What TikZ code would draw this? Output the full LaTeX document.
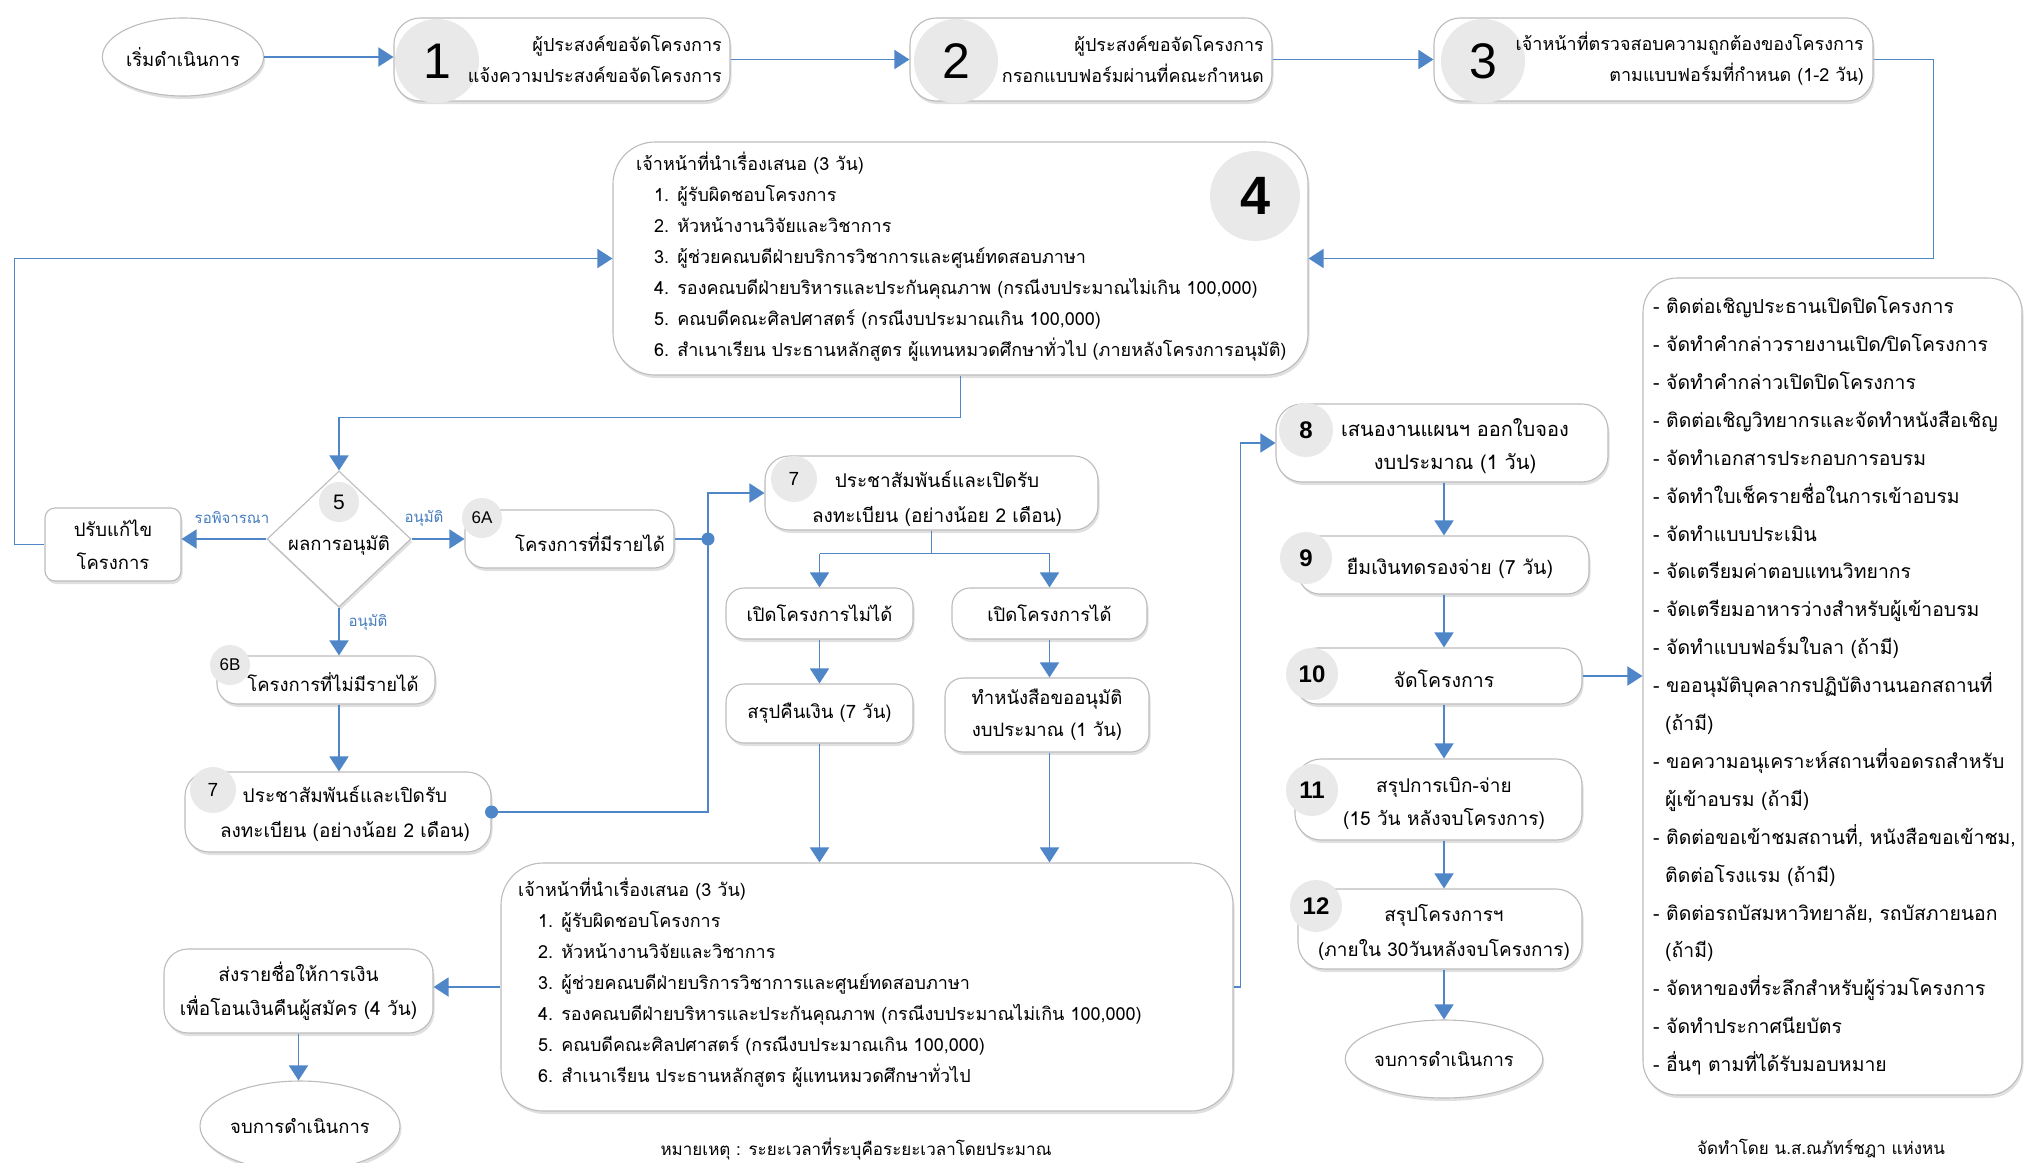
\documentclass[tikz,border=0pt]{standalone}
\usepackage{fontspec}
\setmainfont{Loma}[Script=Thai]
\newfontfamily\numfont{Liberation Sans}
\usetikzlibrary{arrows.meta,shapes.geometric,shadows,calc}
\definecolor{flow}{RGB}{78,134,200}
\definecolor{edge}{RGB}{188,188,188}
\definecolor{numfill}{RGB}{233,233,233}
\definecolor{lbl}{RGB}{70,125,190}
\newcommand\fsz[2]{\fontsize{#1}{#2}\selectfont}
\tikzset{
  softshadow/.style={drop shadow={shadow xshift=1.5pt, shadow yshift=-3pt, opacity=0.12, fill=black}},
  box/.style={draw=edge, line width=1.1pt, rounded corners=18pt, fill=white, softshadow,
    inner sep=0pt, align=center, font=\fsz{18.5}{33}},
  oval/.style={draw=edge, line width=1.1pt, ellipse, fill=white, softshadow, inner sep=0pt,
    font=\fsz{18.5}{33}},
  numc/.style={circle, fill=numfill, inner sep=0pt},
  arr/.style={draw=flow, line width=1.6pt, -{Triangle[width=19pt,length=15pt]}},
  ln/.style={draw=flow, line width=1.6pt},
  txt/.style={inner sep=0pt, font=\fsz{18.5}{31}},
  lab/.style={inner sep=0pt, text=lbl, font=\fsz{15}{18}},
}
\begin{document}
\begin{tikzpicture}[x=1pt,y=-1pt]
\useasboundingbox (0,0) rectangle (2025,1162);
\fill[white] (0,0) rectangle (2025,1162);

% ---------- top row ----------
\node[oval, minimum width=130pt, minimum height=78pt] (start) at (183,57) {เริ่มดำเนินการ};
\node[box, rounded corners=26pt, minimum width=336pt, minimum height=83pt] (b1) at (562,59.5) {};
\node[box, rounded corners=26pt, minimum width=362pt, minimum height=83pt] (b2) at (1091,59.5) {};
\node[box, rounded corners=26pt, minimum width=439pt, minimum height=83pt] (b3) at (1653.5,59.5) {};
\node[numc, minimum size=84pt, font=\numfont\fsz{50}{50}] (c1) at (437,61) {1};
\node[numc, minimum size=84pt, font=\numfont\fsz{50}{50}] (c2) at (956,61) {2};
\node[numc, minimum size=84pt, font=\numfont\fsz{50}{50}] (c3) at (1483,61) {3};
\node[txt, anchor=east, align=right, font=\fsz{18}{31}] (t1) at (722,59) {ผู้ประสงค์ขอจัดโครงการ\\แจ้งความประสงค์ขอจัดโครงการ};
\node[txt, anchor=east, align=right, font=\fsz{18}{31}] (t2) at (1264,59) {ผู้ประสงค์ขอจัดโครงการ\\กรอกแบบฟอร์มผ่านที่คณะกำหนด};
\node[txt, anchor=east, align=right, font=\fsz{18}{31}] (t3) at (1864,59) {เจ้าหน้าที่ตรวจสอบความถูกต้องของโครงการ\\ตามแบบฟอร์มที่กำหนด (1-2 วัน)};

% ---------- step 4 ----------
\node[box, rounded corners=42pt, minimum width=695pt, minimum height=233pt] (b4) at (960.5,258.5) {};
\node[numc, minimum size=90pt, font=\numfont\bfseries\fsz{54}{54}] (c4) at (1255,196) {4};
\node[txt, anchor=north west, align=left, font=\fsz{18}{31}] (t4) at (636,152)
  {เจ้าหน้าที่นำเรื่องเสนอ (3 วัน)\\
   \hspace*{18pt}1. ผู้รับผิดชอบโครงการ\\
   \hspace*{18pt}2. หัวหน้างานวิจัยและวิชาการ\\
   \hspace*{18pt}3. ผู้ช่วยคณบดีฝ่ายบริการวิชาการและศูนย์ทดสอบภาษา\\
   \hspace*{18pt}4. รองคณบดีฝ่ายบริหารและประกันคุณภาพ (กรณีงบประมาณไม่เกิน 100,000)\\
   \hspace*{18pt}5. คณบดีคณะศิลปศาสตร์ (กรณีงบประมาณเกิน 100,000)\\
   \hspace*{18pt}6. สำเนาเรียน ประธานหลักสูตร ผู้แทนหมวดศึกษาทั่วไป (ภายหลังโครงการอนุมัติ)};

% ---------- decision ----------
\node[draw=edge, line width=1.1pt, diamond, fill=white, softshadow, minimum width=144pt,
  minimum height=136pt, inner sep=0pt] (d5) at (339,539) {};
\node[numc, minimum size=40pt, font=\numfont\fsz{21}{21}] (c5) at (339,502) {5};
\node[txt] (t5) at (339,545) {ผลการอนุมัติ};
\node[box, rounded corners=10pt, minimum width=136pt, minimum height=73pt] (fix) at (113,544.5) {ปรับแก้ไข\\โครงการ};

\node[box, rounded corners=20pt, minimum width=209pt, minimum height=58pt] (a6) at (569.5,539) {};
\node[numc, minimum size=40pt, font=\numfont\fsz{17}{17}] (c6a) at (482,518) {6A};
\node[txt] (t6a) at (590,542) {โครงการที่มีรายได้};

\node[box, rounded corners=20pt, minimum width=218pt, minimum height=48pt] (b6) at (326,680) {};
\node[numc, minimum size=40pt, font=\numfont\fsz{17}{17}] (c6b) at (230,665) {6B};
\node[txt] (t6b) at (333,682) {โครงการที่ไม่มีรายได้};

\node[box, rounded corners=24pt, minimum width=306pt, minimum height=80pt] (s7b) at (338,812) {};
\node[numc, minimum size=46pt, font=\numfont\fsz{19}{19}] (c7b) at (213,790) {7};
\node[txt, align=center, font=\fsz{19}{35}] (t7b) at (345,814) {ประชาสัมพันธ์และเปิดรับ\\ลงทะเบียน (อย่างน้อย 2 เดือน)};

\node[box, rounded corners=24pt, minimum width=333pt, minimum height=74pt] (s7a) at (931.5,493) {};
\node[numc, minimum size=46pt, font=\numfont\fsz{19}{19}] (c7a) at (794,479) {7};
\node[txt, align=center, font=\fsz{19}{35}] (t7a) at (937,499) {ประชาสัมพันธ์และเปิดรับ\\ลงทะเบียน (อย่างน้อย 2 เดือน)};

\node[box, minimum width=187pt, minimum height=51pt] (no) at (819.5,613.5) {เปิดโครงการไม่ได้};
\node[box, minimum width=195pt, minimum height=51pt] (yes) at (1049.5,613.5) {เปิดโครงการได้};
\node[box, minimum width=187pt, minimum height=59pt] (refund) at (819.5,713.5) {สรุปคืนเงิน (7 วัน)};
\node[box, minimum width=204pt, minimum height=74pt, font=\fsz{18.5}{32}] (request) at (1047,715) {ทำหนังสือขออนุมัติ\\งบประมาณ (1 วัน)};

% ---------- second review ----------
\node[box, rounded corners=42pt, minimum width=732pt, minimum height=248pt] (rv2) at (867,987) {};
\node[txt, anchor=north west, align=left, font=\fsz{18}{31}] (trv2) at (518,878)
  {เจ้าหน้าที่นำเรื่องเสนอ (3 วัน)\\
   \hspace*{20pt}1. ผู้รับผิดชอบโครงการ\\
   \hspace*{20pt}2. หัวหน้างานวิจัยและวิชาการ\\
   \hspace*{20pt}3. ผู้ช่วยคณบดีฝ่ายบริการวิชาการและศูนย์ทดสอบภาษา\\
   \hspace*{20pt}4. รองคณบดีฝ่ายบริหารและประกันคุณภาพ (กรณีงบประมาณไม่เกิน 100,000)\\
   \hspace*{20pt}5. คณบดีคณะศิลปศาสตร์ (กรณีงบประมาณเกิน 100,000)\\
   \hspace*{20pt}6. สำเนาเรียน ประธานหลักสูตร ผู้แทนหมวดศึกษาทั่วไป};

\node[box, rounded corners=24pt, minimum width=269pt, minimum height=84pt, font=\fsz{19}{34}] (send) at (298.5,991) {ส่งรายชื่อให้การเงิน\\เพื่อโอนเงินคืนผู้สมัคร (4 วัน)};
\node[oval, minimum width=200pt, minimum height=90pt] (end1) at (300,1126) {จบการดำเนินการ};

% ---------- steps 8 to 12 ----------
\node[box, rounded corners=26pt, minimum width=332pt, minimum height=78pt] (s8) at (1442,443) {};
\node[box, rounded corners=22pt, minimum width=291pt, minimum height=58pt] (s9) at (1443.5,565) {};
\node[box, rounded corners=22pt, minimum width=287pt, minimum height=56pt] (s10) at (1438.5,676) {};
\node[box, rounded corners=26pt, minimum width=287pt, minimum height=81pt] (s11) at (1438.5,799.5) {};
\node[box, rounded corners=26pt, minimum width=284pt, minimum height=80pt] (s12) at (1440,929) {};
\node[numc, minimum size=54pt, font=\numfont\bfseries\fsz{24}{24}] (c8) at (1306,430) {8};
\node[numc, minimum size=52pt, font=\numfont\bfseries\fsz{24}{24}] (c9) at (1306,558) {9};
\node[numc, minimum size=52pt, font=\numfont\bfseries\fsz{24}{24}] (c10) at (1312,674) {10};
\node[numc, minimum size=52pt, font=\numfont\bfseries\fsz{24}{24}] (c11) at (1312,790) {11};
\node[numc, minimum size=52pt, font=\numfont\bfseries\fsz{24}{24}] (c12) at (1316,906) {12};
\node[txt, align=center, font=\fsz{20}{33}] (t8) at (1455,446) {เสนองานแผนฯ ออกใบจอง\\งบประมาณ (1 วัน)};
\node[txt, font=\fsz{19.5}{31}] (t9) at (1450,568) {ยืมเงินทดรองจ่าย (7 วัน)};
\node[txt, font=\fsz{19.5}{31}] (t10) at (1444,679) {จัดโครงการ};
\node[txt, align=center, font=\fsz{19}{33}] (t11) at (1444,803) {สรุปการเบิก-จ่าย\\(15 วัน หลังจบโครงการ)};
\node[txt, align=center, font=\fsz{19}{35}] (t12) at (1444,932) {สรุปโครงการฯ\\(ภายใน 30วันหลังจบโครงการ)};
\node[oval, minimum width=196pt, minimum height=78pt] (end2) at (1444,1059) {จบการดำเนินการ};

% ---------- task list ----------
\node[box, rounded corners=34pt, minimum width=379pt, minimum height=817pt] (tasks) at (1832.5,686.5) {};
\node[txt, anchor=north west, align=left, font=\fsz{19.4}{37.9}] (ttasks) at (1653,296)
  {- ติดต่อเชิญประธานเปิดปิดโครงการ\\
   - จัดทำคำกล่าวรายงานเปิด/ปิดโครงการ\\
   - จัดทำคำกล่าวเปิดปิดโครงการ\\
   - ติดต่อเชิญวิทยากรและจัดทำหนังสือเชิญ\\
   - จัดทำเอกสารประกอบการอบรม\\
   - จัดทำใบเช็ครายชื่อในการเข้าอบรม\\
   - จัดทำแบบประเมิน\\
   - จัดเตรียมค่าตอบแทนวิทยากร\\
   - จัดเตรียมอาหารว่างสำหรับผู้เข้าอบรม\\
   - จัดทำแบบฟอร์มใบลา (ถ้ามี)\\
   - ขออนุมัติบุคลากรปฏิบัติงานนอกสถานที่\\
   \hspace*{12pt}(ถ้ามี)\\
   - ขอความอนุเคราะห์สถานที่จอดรถสำหรับ\\
   \hspace*{12pt}ผู้เข้าอบรม (ถ้ามี)\\
   - ติดต่อขอเข้าชมสถานที่, หนังสือขอเข้าชม,\\
   \hspace*{12pt}ติดต่อโรงแรม (ถ้ามี)\\
   - ติดต่อรถบัสมหาวิทยาลัย, รถบัสภายนอก\\
   \hspace*{12pt}(ถ้ามี)\\
   - จัดหาของที่ระลึกสำหรับผู้ร่วมโครงการ\\
   - จัดทำประกาศนียบัตร\\
   - อื่นๆ ตามที่ได้รับมอบหมาย};

% ---------- notes ----------
\node[txt, font=\fsz{17}{20}] (note) at (856,1149) {หมายเหตุ : ระยะเวลาที่ระบุคือระยะเวลาโดยประมาณ};
\node[txt, font=\fsz{17}{20}] (author) at (1821,1149) {จัดทำโดย น.ส.ณภัทร์ชฎา แห่งหน};

% ---------- connectors ----------
\draw[arr] (start.east) -- (start.east -| b1.west);
\draw[arr] (b1.east) -- (b1.east -| b2.west);
\draw[arr] (b2.east) -- (b2.east -| b3.west);
\draw[arr] (b3.east) -- ++(60,0) |- (b4.east);
\draw[arr] (b4.south) -- ++(0,42) -| (d5.north);
\draw[arr] (d5.west) -- (d5.west -| fix.east);
\draw[arr] (d5.east) -- (d5.east -| a6.west);
\draw[arr] (d5.south) -- (d5.south |- b6.north);
\draw[arr] (fix.west) -- ++(-30,0) |- (b4.west);
\draw[arr] (b6.south -| d5.south) -- (d5.south |- s7b.north);
\node[lab] (l1) at (232,518) {รอพิจารณา};
\node[lab] (l2) at (424,518) {อนุมัติ};
\node[lab] (l3) at (368,622) {อนุมัติ};

\coordinate (j) at (708,539);
\draw[ln] (a6.east) -- (j);
\draw[ln] (s7b.east) -- (s7b.east -| j) -- (j);
\draw[arr] (j) |- (s7a.west);
\fill[flow] (j) circle (6.5pt);
\fill[flow] (s7b.east) circle (6.5pt);

\coordinate (br) at ($(s7a.south)+(0,23)$);
\draw[ln] (s7a.south) -- (br);
\draw[ln] (no.north |- br) -- (yes.north |- br);
\draw[arr] (no.north |- br) -- (no.north);
\draw[arr] (yes.north |- br) -- (yes.north);
\draw[arr] (no.south) -- (refund.north);
\draw[arr] (yes.south) -- (yes.south |- request.north);
\draw[arr] (refund.south) -- (refund.south |- rv2.north);
\draw[arr] (request.south -| yes.south) -- (yes.south |- rv2.north);
\draw[arr] (rv2.west) -- (rv2.west -| send.east);
\draw[arr] (send.south) -- (send.south |- end1.north);
\draw[arr] (rv2.east) -- ++(7,0) |- (s8.west);

\coordinate (col) at (1444,0);
\draw[arr] (col |- s8.south) -- (col |- s9.north);
\draw[arr] (col |- s9.south) -- (col |- s10.north);
\draw[arr] (col |- s10.south) -- (col |- s11.north);
\draw[arr] (col |- s11.south) -- (col |- s12.north);
\draw[arr] (col |- s12.south) -- (col |- end2.north);
\draw[arr] (s10.east) -- (s10.east -| tasks.west);
\end{tikzpicture}
\end{document}
